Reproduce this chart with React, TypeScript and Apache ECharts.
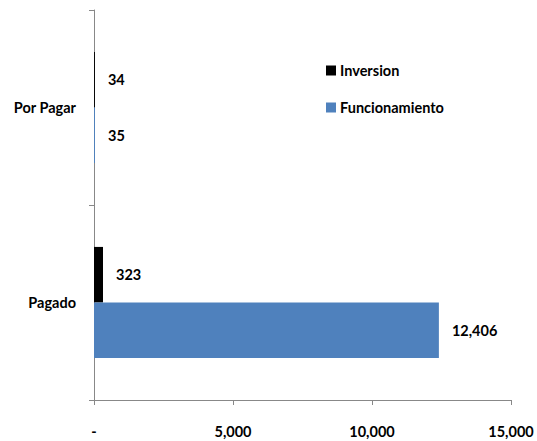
import React, { useEffect, useRef } from "react";
import * as echarts from "echarts";

const categories = ["Pagado", "Por Pagar"];
const inversion = [323, 34];
const funcionamiento = [12406, 35];
const seriesNames = ["Inversion", "Funcionamiento"];
const xTicks = [0, 5000, 10000, 15000];

const FONT = "Lato, 'Open Sans', sans-serif";
const FS = 14.5;

export default function App() {
  const ref = useRef<HTMLDivElement>(null);
  useEffect(() => {
    if (!ref.current) return;
    const chart = echarts.init(ref.current, null, { renderer: "svg" });
    const fmt = (v: number) => (v === 0 ? "-" : v.toLocaleString("en-US"));
    const labelStyle = {
      show: true,
      position: "right" as const,
      distance: 13,
      color: "#000",
      fontFamily: FONT,
      fontWeight: "bold" as const,
      fontSize: FS,
      formatter: (p: any) => fmt(p.value),
    };
    chart.setOption({
      animation: false,
      backgroundColor: "#fff",
      textStyle: { fontFamily: FONT },
      grid: { left: 94, right: 26, top: 10, bottom: 41, containLabel: false },
      legend: {
        orient: "vertical",
        left: 321,
        top: 58,
        itemWidth: 10,
        itemHeight: 10,
        itemGap: 22,
        icon: "rect",
        data: seriesNames,
        textStyle: { fontFamily: FONT, fontWeight: "bold", fontSize: FS, color: "#000", padding: [0, 0, 0, -1] },
      },
      xAxis: {
        type: "value",
        min: xTicks[0],
        max: xTicks[xTicks.length - 1],
        interval: xTicks[1] - xTicks[0],
        splitLine: { show: false },
        axisLine: { show: true, lineStyle: { color: "#888", width: 1 } },
        axisTick: { show: true, length: 5, lineStyle: { color: "#888" } },
        axisLabel: {
          margin: 24,
          color: "#000",
          fontFamily: FONT,
          fontWeight: "bold",
          fontSize: FS,
          formatter: fmt,
        },
      },
      yAxis: {
        type: "category",
        data: categories,
        axisLine: { show: true, lineStyle: { color: "#888", width: 1 } },
        axisTick: { show: true, length: 5, lineStyle: { color: "#888" } },
        axisLabel: {
          margin: 18,
          color: "#000",
          fontFamily: FONT,
          fontWeight: "bold",
          fontSize: FS,
        },
        splitLine: { show: false },
      },
      series: [
        {
          name: seriesNames[0],
          type: "bar",
          data: inversion,
          itemStyle: { color: "#000000" },
          barGap: "0%",
          barCategoryGap: "43%",
          label: labelStyle,
        },
        {
          name: seriesNames[1],
          type: "bar",
          data: funcionamiento,
          itemStyle: { color: "#4F81BD" },
          barGap: "0%",
          barCategoryGap: "43%",
          label: labelStyle,
        },
      ],
    });
    return () => chart.dispose();
  }, []);
  return <div ref={ref} style={{ position: "fixed", left: 0, top: 0, width: 537, height: 441 }} />;
}
